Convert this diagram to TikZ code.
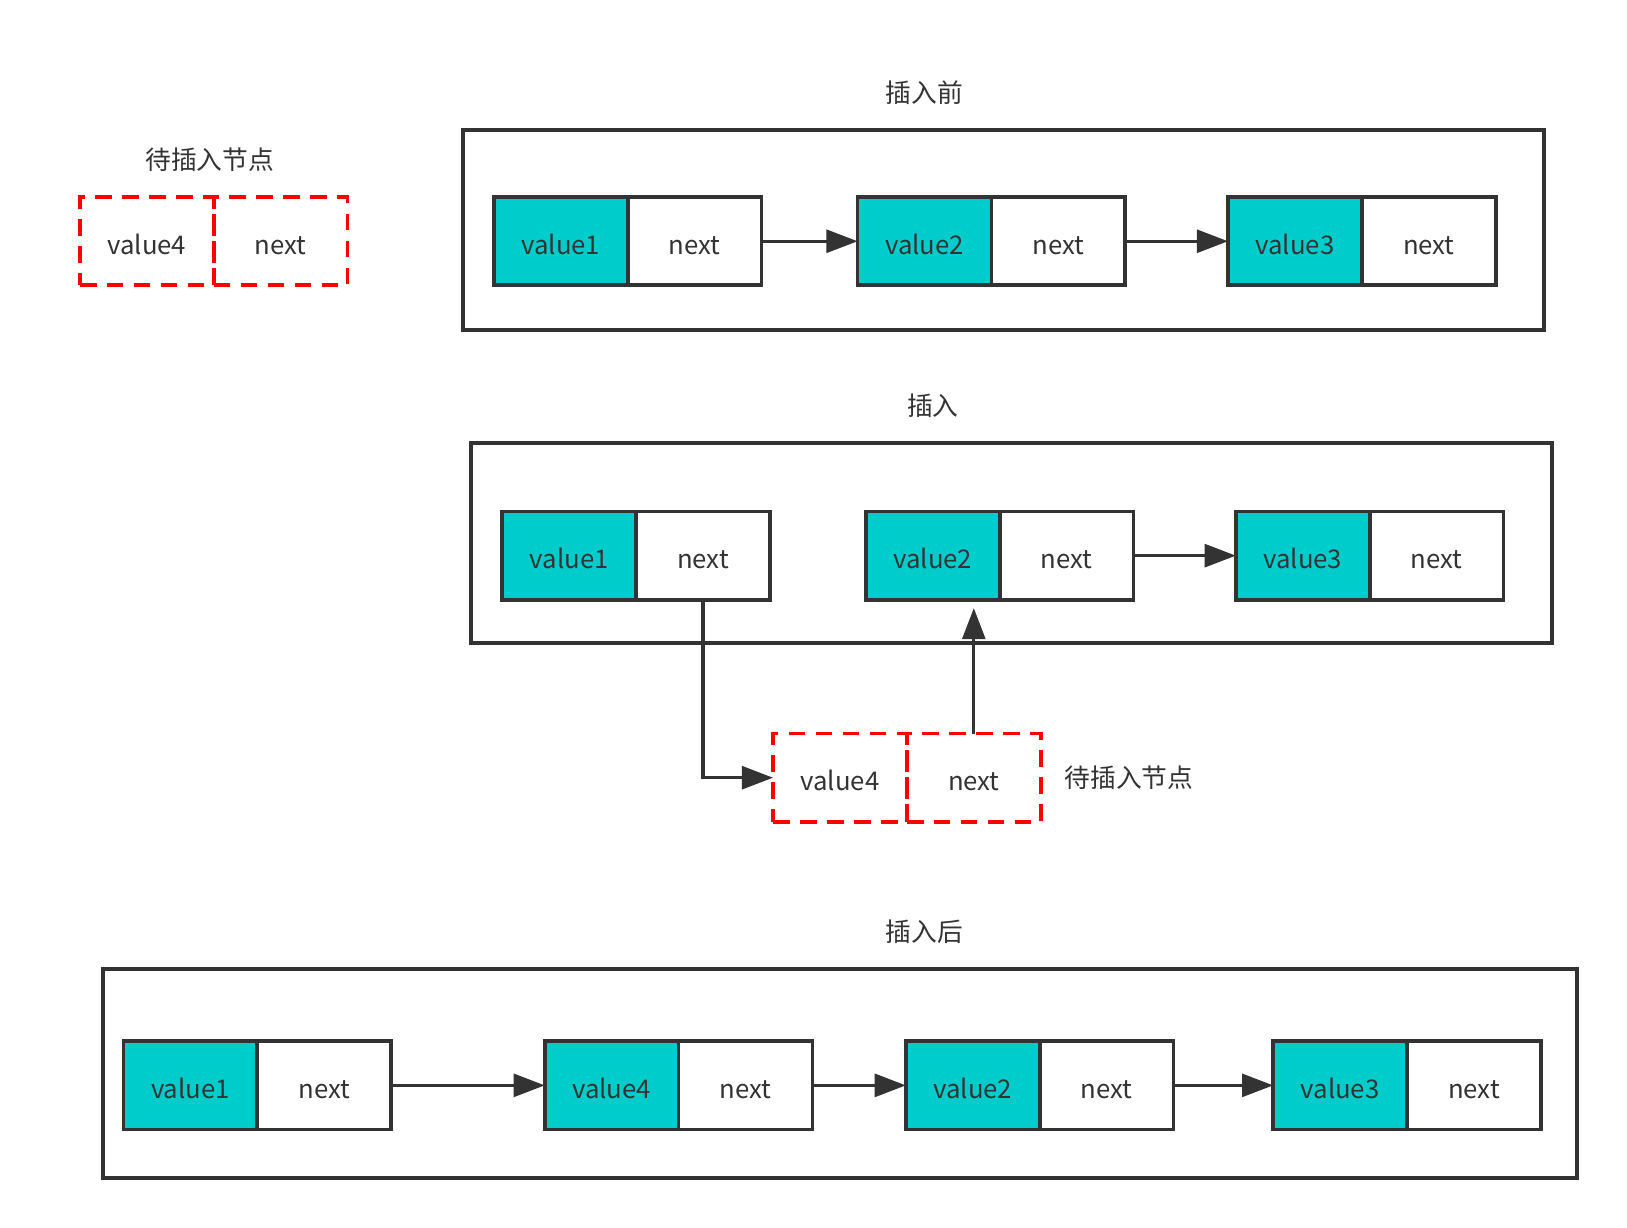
\documentclass[tikz,border=0pt]{standalone}
\usepackage{fontspec}
\setmainfont{Noto Sans CJK SC}
\usepackage{tikz}
\usetikzlibrary{arrows.meta}
\usetikzlibrary{positioning}
\definecolor{ink}{HTML}{333333}
\definecolor{cyanfill}{HTML}{00CCCC}
\tikzstyle{cell}=[draw=ink,line width=1.8pt,minimum width=64.5pt,minimum height=42.5pt,inner sep=0pt,outer sep=0pt,text height=12.6pt,text depth=0pt,text=ink,font=\fontsize{12.4}{14}\selectfont]
\tikzstyle{val}=[cell,fill=cyanfill]
\tikzstyle{ptr}=[cell,fill=white]
\tikzstyle{newcell}=[cell,draw=red,dash pattern=on 8pt off 5pt]
\tikzstyle{link}=[draw=ink,line width=1.6pt,-{Triangle[length=15pt,width=11pt]}]
\tikzstyle{frame}=[draw=ink,line width=1.8pt]
\tikzstyle{title}=[text=ink,font=\fontsize{12.4}{14}\selectfont]

\begin{document}
\begin{tikzpicture}[x=0.5pt,y=-0.5pt]
\useasboundingbox (0,0) rectangle (1568,1183);

% node waiting to be inserted
\node [title] (t0) at (202,154) {待插入节点};
\node [newcell] (w4) at (141.5,232.5) {value4};
\node [newcell,right=0pt of w4] (wn) {next};

% before
\node [title] (t1) at (891,89) {插入前};
\draw [frame] (446,125) rectangle (1488,318);
\node [val] (a1) at (540.5,232.5) {value1};
\node [ptr,right=0pt of a1] (a1n) {next};
\node [val] (a2) at (891,232.5) {value2};
\node [ptr,right=0pt of a2] (a2n) {next};
\node [val] (a3) at (1248,232.5) {value3};
\node [ptr,right=0pt of a3] (a3n) {next};
\draw [link] (a1n) -- (a2);
\draw [link] (a2n) -- (a3);

% inserting
\node [title] (t2) at (899,391) {插入};
\draw [frame] (454,427) rectangle (1496,620);
\node [val] (b1) at (548.5,535.5) {value1};
\node [ptr,right=0pt of b1] (b1n) {next};
\node [val] (b2) at (899,535.5) {value2};
\node [ptr,right=0pt of b2] (b2n) {next};
\node [val] (b3) at (1255.5,535.5) {value3};
\node [ptr,right=0pt of b3] (b3n) {next};
\draw [link] (b2n) -- (b3);
\node [newcell] (c4) at (809.5,749.5) {value4};
\node [newcell,right=0pt of c4] (c4n) {next};
\node [title,right=8pt of c4n] (t3) {待插入节点};
\draw [link] (b1n.south) |- (c4.west);
\draw [link,shorten >=4pt] (c4n.north) -- (c4n.north |- b2.south);

% after
\node [title] (t4) at (891,898) {插入后};
\draw [frame] (99,934) rectangle (1520,1135);
\node [val] (d1) at (183.5,1046) {value1};
\node [ptr,right=0pt of d1] (d1n) {next};
\node [val] (d4) at (589.5,1046) {value4};
\node [ptr,right=0pt of d4] (d4n) {next};
\node [val] (d2) at (937.5,1046) {value2};
\node [ptr,right=0pt of d2] (d2n) {next};
\node [val] (d3) at (1291.5,1046) {value3};
\node [ptr,right=0pt of d3] (d3n) {next};
\draw [link] (d1n) -- (d4);
\draw [link] (d4n) -- (d2);
\draw [link] (d2n) -- (d3);
\end{tikzpicture}
\end{document}
